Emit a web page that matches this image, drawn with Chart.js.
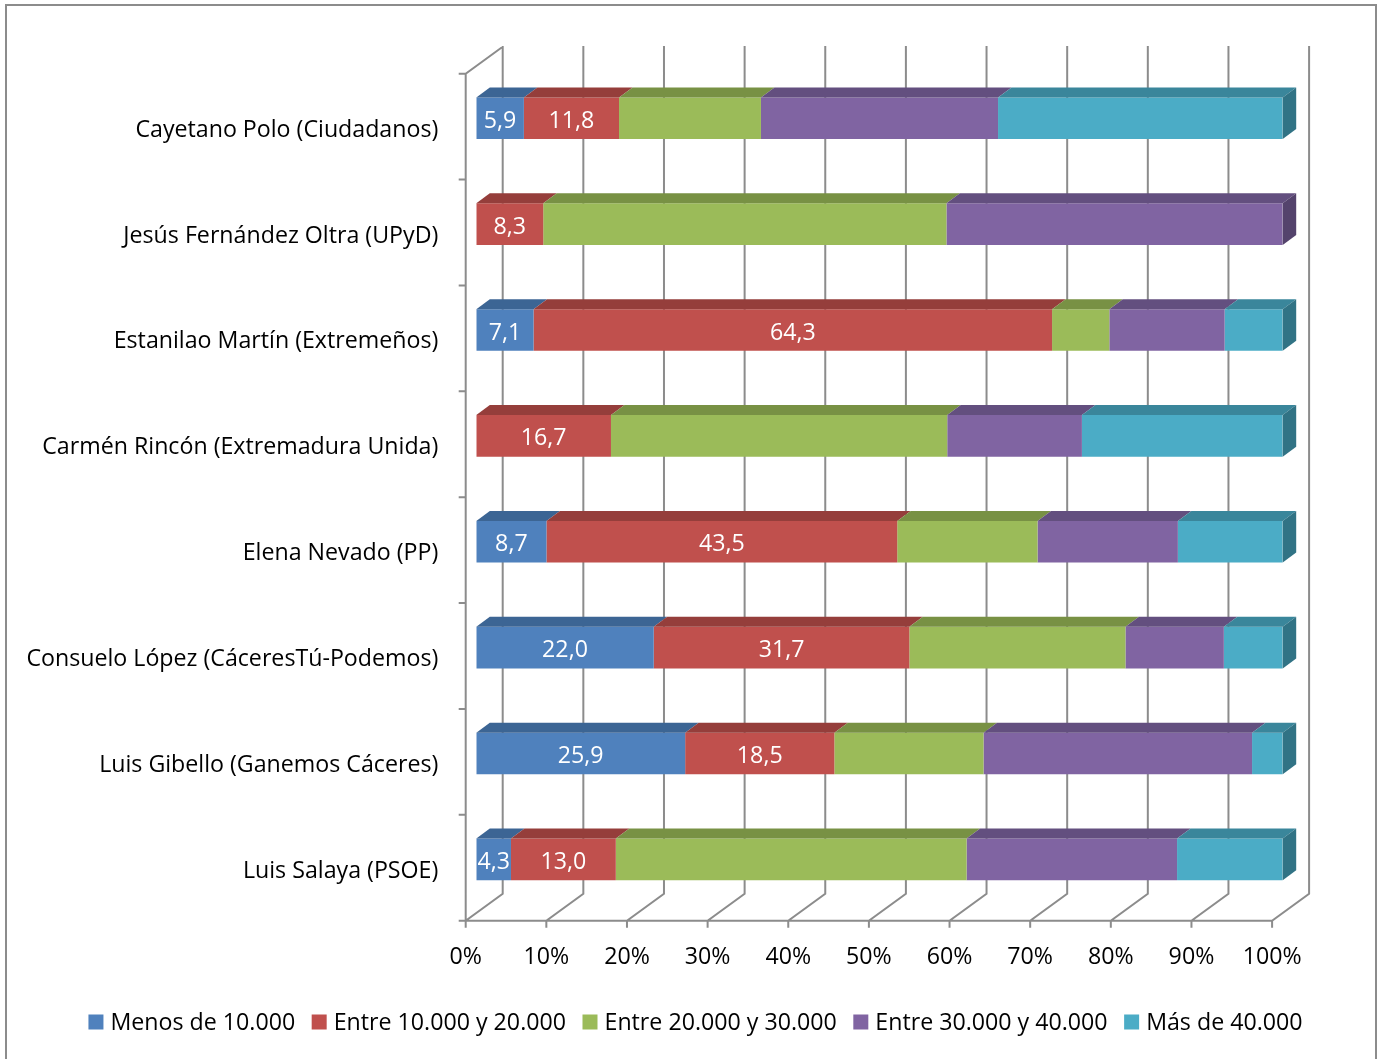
<!DOCTYPE html>
<html>
<head>
<meta charset="utf-8">
<script src="https://cdn.jsdelivr.net/npm/chart.js@4/dist/chart.umd.min.js"></script>
<style>
  html, body { margin: 0; padding: 0; background: #fff; overflow: hidden; }
  #wrap { position: relative; width: 1381px; height: 1059px; }
  #frame { position: absolute; left: 5px; top: 4px; width: 1368px; height: 1100px; border: 2px solid #8c8c8c; pointer-events: none; }
  canvas { display: block; }
</style>
</head>
<body>
<div id="wrap">
  <canvas id="c" width="1381" height="1059"></canvas>
  <div id="frame"></div>
</div>
<script>
const categories = [
  'Cayetano Polo (Ciudadanos)',
  'Jesús Fernández Oltra (UPyD)',
  'Estanilao Martín (Extremeños)',
  'Carmén Rincón (Extremadura Unida)',
  'Elena Nevado (PP)',
  'Consuelo López (CáceresTú-Podemos)',
  'Luis Gibello (Ganemos Cáceres)',
  'Luis Salaya (PSOE)'
];
const seriesNames = ['Menos de 10.000', 'Entre 10.000 y 20.000', 'Entre 20.000 y 30.000', 'Entre 30.000 y 40.000', 'Más de 40.000'];
const menos10 = [5.9, 0, 7.1, 0, 8.7, 22.0, 25.9, 4.3];
const entre10_20 = [11.8, 8.3, 64.3, 16.7, 43.5, 31.7, 18.5, 13.0];
const entre20_30 = [17.6, 50.0, 7.1, 41.7, 17.4, 26.8, 18.5, 43.5];
const entre30_40 = [29.4, 41.7, 14.3, 16.7, 17.4, 12.2, 33.3, 26.1];
const mas40 = [35.3, 0, 7.2, 24.9, 13.0, 7.3, 3.8, 13.1];
const tickValues = [0, 10, 20, 30, 40, 50, 60, 70, 80, 90, 100];

const FONT = '"Open Sans", Lato, sans-serif';
const FSIZE = 23.2;
const front = ['#4F81BD', '#C0504D', '#9BBB59', '#8064A2', '#4BACC6'];
const topC = ['#3c6594', '#953e3b', '#789144', '#634f7f', '#3a869b'];
const sideC = ['#33577f', '#803532', '#677c3a', '#54436c', '#317385'];
const labelled = [true, true, false, false, false];

const allSeries = [menos10, entre10_20, entre20_30, entre30_40, mas40];

// geometry of the 3D look (pixels)
const BAR_SHIFT_X = 10.6, BAR_SHIFT_Y = 8.4;   // bars sit behind the front plane
const WALL_DX = 37, WALL_DY = -27;              // back wall depth
const BAR_DX = 13.5, BAR_DY = -10;              // bar depth
const WALL_TOP = 46;

const wallPlugin = {
  id: 'walls',
  beforeDatasetsDraw(chart) {
    const ctx = chart.ctx, xs = chart.scales.x, ca = chart.chartArea;
    const yFront = ca.bottom + BAR_SHIFT_Y;
    const topFront = ca.top + BAR_SHIFT_Y;
    ctx.save();
    ctx.strokeStyle = '#8c8c8c';
    ctx.lineWidth = 2;
    ctx.lineCap = 'butt';
    ctx.beginPath();
    tickValues.forEach(v => {
      const xf = xs.getPixelForValue(v) - BAR_SHIFT_X;
      ctx.moveTo(xf, yFront + 7);
      ctx.lineTo(xf, yFront);
      ctx.lineTo(xf + WALL_DX, yFront + WALL_DY);
      ctx.lineTo(xf + WALL_DX, WALL_TOP);
    });
    const x0 = xs.getPixelForValue(0) - BAR_SHIFT_X;
    const x100 = xs.getPixelForValue(100) - BAR_SHIFT_X;
    ctx.moveTo(x0, yFront); ctx.lineTo(x100, yFront);
    ctx.moveTo(x0, yFront); ctx.lineTo(x0, topFront);
    ctx.lineTo(x0 + WALL_DX, topFront + WALL_DY);
    const n = categories.length;
    for (let k = 0; k <= n; k++) {
      const y = topFront + (yFront - topFront) * k / n;
      ctx.moveTo(x0 - 7, y); ctx.lineTo(x0, y);
    }
    ctx.stroke();
    ctx.restore();
  },
  afterDatasetsDraw(chart) {
    const ctx = chart.ctx;
    const metas = chart.data.datasets.map((d, i) => chart.getDatasetMeta(i));
    ctx.save();
    categories.forEach((c, i) => {
      let last = -1;
      allSeries.forEach((s, d) => { if (s[i] > 0) last = d; });
      allSeries.forEach((s, d) => {
        if (!(s[i] > 0)) return;
        const el = metas[d].data[i];
        const p = el.getProps(['x', 'y', 'base', 'height'], true);
        const left = Math.min(p.x, p.base), right = Math.max(p.x, p.base);
        const top = p.y - p.height / 2, bottom = p.y + p.height / 2;
        ctx.fillStyle = topC[d];
        ctx.beginPath();
        ctx.moveTo(left, top); ctx.lineTo(right, top);
        ctx.lineTo(right + BAR_DX, top + BAR_DY); ctx.lineTo(left + BAR_DX, top + BAR_DY);
        ctx.closePath(); ctx.fill();
        if (d === last) {
          ctx.fillStyle = sideC[d];
          ctx.beginPath();
          ctx.moveTo(right, top); ctx.lineTo(right + BAR_DX, top + BAR_DY);
          ctx.lineTo(right + BAR_DX, bottom + BAR_DY); ctx.lineTo(right, bottom);
          ctx.closePath(); ctx.fill();
        }
        if (labelled[d]) {
          ctx.fillStyle = '#ffffff';
          ctx.font = FSIZE + 'px ' + FONT;
          ctx.textAlign = 'center';
          ctx.textBaseline = 'middle';
          ctx.fillText(s[i].toFixed(1).replace('.', ','), (left + right) / 2, p.y + 3);
        }
      });
    });
    ctx.restore();
  },
  afterDraw(chart) {
    const ctx = chart.ctx;
    ctx.save();
    ctx.font = FSIZE + 'px ' + FONT;
    ctx.textBaseline = 'middle';
    ctx.textAlign = 'left';
    const box = 15, gap = 7, spacing = 16.5;
    const widths = seriesNames.map(t => ctx.measureText(t).width);
    let total = 0;
    widths.forEach((w, i) => { total += box + gap + w + (i < widths.length - 1 ? spacing : 0); });
    let x = 695.5 - total / 2;
    const yc = 1022;
    seriesNames.forEach((t, i) => {
      ctx.fillStyle = front[i];
      ctx.fillRect(x, yc - box / 2, box, box);
      ctx.fillStyle = '#000';
      ctx.fillText(t, x + box + gap, yc + 1);
      x += box + gap + widths[i] + spacing;
    });
    ctx.restore();
  }
};

new Chart(document.getElementById('c'), {
  type: 'bar',
  data: {
    labels: categories,
    datasets: allSeries.map((s, d) => ({
      label: seriesNames[d],
      data: s,
      backgroundColor: front[d],
      borderWidth: 0,
      barPercentage: 0.394,
      categoryPercentage: 1
    }))
  },
  options: {
    responsive: false,
    animation: false,
    indexAxis: 'y',
    layout: { padding: { top: 65.3, right: 98.3, left: 0, bottom: 0 } },
    plugins: { legend: { display: false }, tooltip: { enabled: false } },
    scales: {
      x: {
        stacked: true, min: 0, max: 100,
        grid: { display: false, drawTicks: false },
        border: { display: false },
        ticks: { stepSize: 10, callback: v => v + '%', color: '#000', font: { family: FONT, size: FSIZE }, padding: 31, labelOffset: -BAR_SHIFT_X, maxRotation: 0, autoSkip: false },
        afterFit: s => { s.height = 146.7; }
      },
      y: {
        stacked: true,
        grid: { display: false, drawTicks: false },
        border: { display: false },
        ticks: { color: '#000', font: { family: FONT, size: FSIZE }, padding: 38, labelOffset: BAR_SHIFT_Y + 3.5 },
        afterFit: s => { s.width = 476.3; }
      }
    }
  },
  plugins: [wallPlugin]
});
</script>
</body>
</html>
